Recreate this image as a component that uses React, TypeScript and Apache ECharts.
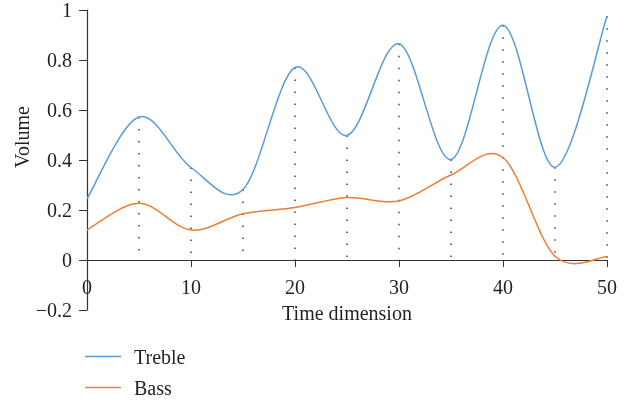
import React, { useEffect, useRef } from "react";
import * as echarts from "echarts";

const timeX = [0, 5, 10, 15, 20, 25, 30, 35, 40, 45, 50];
const trebleY = [0.245, 0.572, 0.37, 0.282, 0.77, 0.498, 0.865, 0.402, 0.939, 0.371, 0.975];
const bassY = [0.12, 0.227, 0.12, 0.185, 0.21, 0.25, 0.236, 0.34, 0.41, 0.015, 0.014];

const xTicks = { min: 0, max: 50, interval: 10 };
const yTicks = { min: -0.2, max: 1, interval: 0.2 };

const FONT = '"Liberation Serif", "Times New Roman", serif';
const TEXT = "#231f20";
const AXIS = "#333333";
const TREBLE_COLOR = "#5b9bd5";
const BASS_COLOR = "#ed7d31";

function smoothSeries(name: string, ys: number[], color: string) {
  return {
    name,
    type: "custom",
    data: timeX.map((x, i) => [x, ys[i]]),
    encode: { x: 0, y: 1 },
    itemStyle: { color },
    z: 3,
    renderItem: (params: any, api: any) => {
      if (params.dataIndex !== 0) return null;
      const pts = timeX.map((x, i) => api.coord([x, ys[i]]));
      const n = pts.length;
      let d = `M${pts[0][0]},${pts[0][1]}`;
      for (let i = 0; i < n - 1; i++) {
        const p0 = pts[Math.max(0, i - 1)];
        const p1 = pts[i];
        const p2 = pts[i + 1];
        const p3 = pts[Math.min(n - 1, i + 2)];
        const c1x = p1[0] + (p2[0] - p0[0]) / 6;
        const c1y = p1[1] + (p2[1] - p0[1]) / 6;
        const c2x = p2[0] - (p3[0] - p1[0]) / 6;
        const c2y = p2[1] - (p3[1] - p1[1]) / 6;
        d += ` C${c1x},${c1y} ${c2x},${c2y} ${p2[0]},${p2[1]}`;
      }
      return {
        type: "path",
        shape: { pathData: d },
        style: { stroke: color, lineWidth: 1.5, fill: "none" },
        silent: true,
      };
    },
  };
}

export default function App() {
  const ref = useRef<HTMLDivElement>(null);
  useEffect(() => {
    if (!ref.current) return;
    const chart = echarts.init(ref.current, undefined, { renderer: "svg" });
    const legendText = { fontFamily: FONT, fontSize: 20, color: TEXT, lineHeight: 21, padding: [0, 0, 0, 8] };
    const legendBase = {
      left: 85,
      padding: 0,
      icon: "rect",
      itemWidth: 36,
      itemHeight: 1.5,
      textStyle: legendText,
    };
    chart.setOption({
      animation: false,
      grid: { left: 87, right: 34, top: 10, bottom: 92, containLabel: false },
      legend: [
        { ...legendBase, data: ["Treble"], top: 346 },
        { ...legendBase, data: ["Bass"], top: 377 },
      ],
      xAxis: {
        type: "value",
        ...xTicks,
        position: "bottom",
        offset: -50,
        name: "Time dimension",
        nameLocation: "middle",
        nameGap: 43,
        nameTextStyle: { fontFamily: FONT, fontSize: 20, color: TEXT },
        axisLine: { onZero: false, lineStyle: { color: AXIS, width: 1.2 } },
        axisTick: { show: true, length: 7, lineStyle: { color: AXIS } },
        axisLabel: { fontFamily: FONT, fontSize: 20, color: TEXT, margin: 17 },
        splitLine: { show: false },
      },
      yAxis: {
        type: "value",
        ...yTicks,
        axisLine: { show: true, onZero: false, lineStyle: { color: AXIS, width: 1.2 } },
        axisTick: { show: true, length: 8, lineStyle: { color: AXIS } },
        axisLabel: {
          fontFamily: FONT,
          fontSize: 20,
          color: TEXT,
          margin: 15,
          formatter: (v: number) => String(Math.round(v * 10) / 10).replace("-", "\u2212"),
        },
        splitLine: { show: false },
      },
      graphic: [
        {
          type: "text",
          x: 22,
          y: 137,
          rotation: Math.PI / 2,
          style: {
            text: "Volume",
            font: `20px ${FONT}`,
            fill: TEXT,
            align: "center",
            verticalAlign: "middle",
            textAlign: "center",
            textVerticalAlign: "middle",
          },
        },
      ],
      series: [
        {
          name: "drops",
          type: "custom",
          data: timeX.map((x, i) => [x, trebleY[i]]),
          encode: { x: 0, y: 1 },
          z: 2,
          silent: true,
          renderItem: (params: any, api: any) => {
            const x = api.value(0);
            if (x <= 0) return null;
            const top = api.coord([x, api.value(1)]);
            const bottom = api.coord([x, 0]);
            return {
              type: "line",
              shape: { x1: top[0], y1: top[1], x2: bottom[0], y2: bottom[1] },
              style: { stroke: "#222", lineWidth: 1.3, lineDash: [1.5, 10.5] },
            };
          },
        },
        smoothSeries("Treble", trebleY, TREBLE_COLOR),
        smoothSeries("Bass", bassY, BASS_COLOR),
      ],
    });
    return () => chart.dispose();
  }, []);
  return <div ref={ref} style={{ position: "fixed", left: 0, top: 0, width: 641, height: 402 }} />;
}
